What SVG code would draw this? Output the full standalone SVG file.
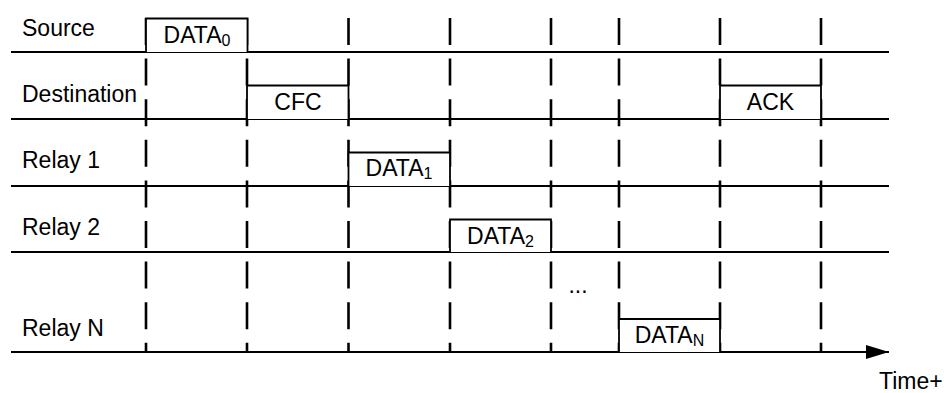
<svg xmlns="http://www.w3.org/2000/svg" width="944" height="393" viewBox="0 0 944 393">
<defs>
<style>
.t{font-family:"Liberation Sans",Arial,Helvetica,sans-serif;font-size:23px;fill:#000}
.c{text-anchor:middle}
.sub{font-size:16px}
.lane{stroke:#000;stroke-width:1.8;fill:none}
.box{stroke:#000;stroke-width:1.8;fill:#fff}
.tick{stroke:#000;stroke-width:2.6;stroke-dasharray:27 13.6;fill:none}
</style>
<marker id="arr" markerUnits="userSpaceOnUse" markerWidth="24" markerHeight="16" refX="23" refY="7" orient="auto">
<path d="M0,0 L23,7 L0,14 Z" fill="#000"/>
</marker>
</defs>
<rect width="944" height="393" fill="#fff"/>

<g id="lanes">
<g id="lane-source"><line class="lane" x1="11" y1="52" x2="889" y2="52"/><text class="t" x="22" y="36">Source</text></g>
<g id="lane-destination"><line class="lane" x1="11" y1="119" x2="889" y2="119"/><text class="t" x="22" y="102">Destination</text></g>
<g id="lane-relay1"><line class="lane" x1="11" y1="186" x2="889" y2="186"/><text class="t" x="22" y="168">Relay 1</text></g>
<g id="lane-relay2"><line class="lane" x1="11" y1="252" x2="889" y2="252"/><text class="t" x="22" y="235">Relay 2</text></g>
<g id="lane-relayN"><text class="t" x="22" y="336">Relay N</text></g>
</g>

<g id="connectors">
<line class="tick" x1="146" y1="18" x2="146" y2="353"/>
<line class="tick" x1="247" y1="18" x2="247" y2="353"/>
<line class="tick" x1="348.5" y1="18" x2="348.5" y2="353"/>
<line class="tick" x1="450" y1="18" x2="450" y2="353"/>
<line class="tick" x1="551" y1="18" x2="551" y2="353"/>
<line class="tick" x1="619" y1="18" x2="619" y2="353"/>
<line class="tick" x1="720" y1="18" x2="720" y2="353"/>
<line class="tick" x1="821" y1="18" x2="821" y2="353"/>
<line id="time-axis" class="lane" x1="11" y1="352" x2="889" y2="352" marker-end="url(#arr)"/>
</g>

<g id="msg-data0"><path class="box" d="M146,52 V18.5 H247.5 V52"/><text class="t c" x="197" y="42.5">DATA<tspan class="sub" dy="3">0</tspan></text></g>
<g id="msg-cfc"><path class="box" d="M247,119 V85.5 H348.5 V119"/><text class="t c" x="298" y="109.5">CFC</text></g>
<g id="msg-data1"><path class="box" d="M348.5,186 V152.5 H450 V186"/><text class="t c" x="399" y="176">DATA<tspan class="sub" dy="3">1</tspan></text></g>
<g id="msg-data2"><path class="box" d="M450,252 V219.5 H551 V252"/><text class="t c" x="500.5" y="243.5">DATA<tspan class="sub" dy="3">2</tspan></text></g>
<g id="msg-dataN"><path class="box" d="M619,352 V319 H720 V352"/><text class="t c" x="669.5" y="343">DATA<tspan class="sub" dy="3">N</tspan></text></g>
<g id="msg-ack"><path class="box" d="M720,119 V85.5 H821 V119"/><text class="t c" x="770.5" y="109.5">ACK</text></g>

<g id="annotations">
<text class="t c" x="578" y="293">...</text>
<text class="t" x="879" y="389">Time+</text>
</g>
</svg>
